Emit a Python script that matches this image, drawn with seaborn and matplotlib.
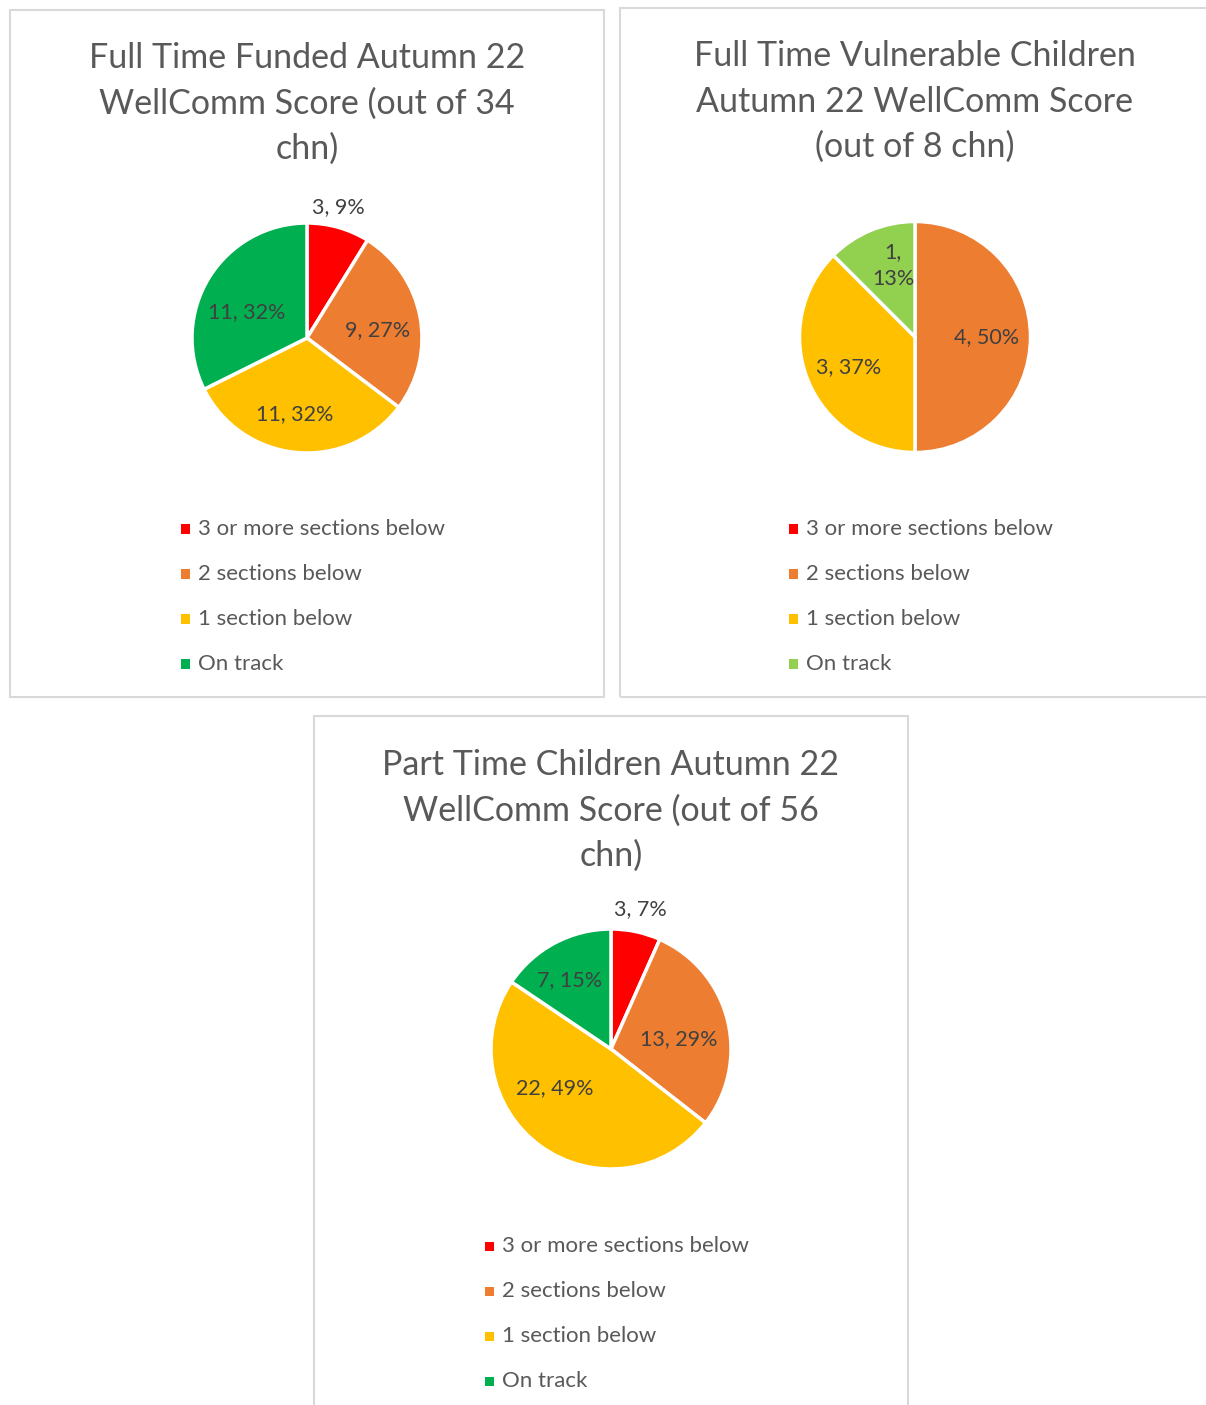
import numpy as np
import matplotlib
matplotlib.use("Agg")
import matplotlib.pyplot as plt
from matplotlib.patches import Rectangle
import seaborn as sns

sns.set_theme(style="white")
plt.rcParams['font.family'] = ['Lato', 'DejaVu Sans']

# ---------------- data ----------------
categories = ["3 or more sections below", "2 sections below", "1 section below", "On track"]

title_ft_funded = "Full Time Funded Autumn 22\nWellComm Score (out of 34\nchn)"
values_ft_funded = [3, 9, 11, 11]
pct_ft_funded = ["9%", "27%", "32%", "32%"]

title_ft_vuln = "Full Time Vulnerable Children\nAutumn 22 WellComm Score\n(out of 8 chn)"
values_ft_vuln = [0, 4, 3, 1]
pct_ft_vuln = ["0%", "50%", "37%", "13%"]

title_pt = "Part Time Children Autumn 22\nWellComm Score (out of 56\nchn)"
values_pt = [3, 13, 22, 7]
pct_pt = ["7%", "29%", "49%", "15%"]

colors_a = ["#FF0000", "#ED7D31", "#FFC000", "#00B050"]
colors_b = ["#FF0000", "#ED7D31", "#FFC000", "#92D050"]

# ---------------- layout (pixels) ----------------
W, H = 1206, 1405
fig = plt.figure(figsize=(W / 100, H / 100), dpi=100)
fig.patch.set_facecolor("white")

TITLE_C = "#595959"
LABEL_C = "#404040"
LEG_C = "#595959"


def fx(x):
    return x / W


def fy(y):
    return 1 - y / H


panels = [
    dict(box=(10, 10, 604, 697), title=title_ft_funded, vals=values_ft_funded, pct=pct_ft_funded,
         colors=colors_a, center=(307, 338), r=115, title_x=307, title_y=58,
         lab=[(1.17, 76.6), (0.62, 6.5), (0.67, -99), (0.57, 156.6)],
         wrap=[False, False, False, False],
         leg_x=181, leg_y=529),
    dict(box=(620, 8, 1212, 697), title=title_ft_vuln, vals=values_ft_vuln, pct=pct_ft_vuln,
         colors=colors_b, center=(915, 337), r=115.5, title_x=915, title_y=56,
         lab=[(0, 0), (0.62, 0), (0.63, -155.6), (0.65, 107)],
         wrap=[False, False, False, True],
         leg_x=789, leg_y=529),
    dict(box=(314, 716, 908, 1412), title=title_pt, vals=values_pt, pct=pct_pt,
         colors=colors_a, center=(611, 1049), r=120, title_x=611, title_y=765,
         lab=[(1.19, 78.3), (0.57, 8.4), (0.57, -145), (0.67, 120.7)],
         wrap=[False, False, False, False],
         leg_x=485, leg_y=1246),
]

for p in panels:
    x0, y0, x1, y1 = p["box"]
    fig.add_artist(Rectangle((fx(x0), fy(y1)), fx(x1 - x0), (y1 - y0) / H,
                             transform=fig.transFigure, fill=False,
                             edgecolor="#D9D9D9", linewidth=1.5, zorder=0))
    # title: one text per line so spacing matches
    for j, line in enumerate(p["title"].split("\n")):
        fig.text(fx(p["title_x"]), fy(p["title_y"] + 45.5 * j), line,
                 ha="center", va="center", fontsize=24.5, color=TITLE_C)

    # pie
    cx, cy = p["center"]
    r = p["r"]
    ax = fig.add_axes([fx(cx - r * 1.3), fy(cy + r * 1.3), 2.6 * r / W, 2.6 * r / H])
    vals = np.array(p["vals"], dtype=float)
    mask = vals > 0
    ax.pie(vals[mask], colors=[c for c, m in zip(p["colors"], mask) if m],
           startangle=90, counterclock=False, radius=1.0,
           wedgeprops=dict(edgecolor="white", linewidth=2.5))
    ax.set_xlim(-1.3, 1.3)
    ax.set_ylim(-1.3, 1.3)
    ax.set_aspect("equal")
    ax.axis("off")
    for i, (v, pc) in enumerate(zip(p["vals"], p["pct"])):
        if v == 0:
            continue
        d, ang = p["lab"][i]
        t = np.deg2rad(ang)
        sep = ",\n" if p["wrap"][i] else ", "
        ax.text(d * np.cos(t), d * np.sin(t), f"{v}{sep}{pc}", ha="center", va="center",
                fontsize=15.5, color=LABEL_C, linespacing=1.45)

    # legend
    for i, (cat, col) in enumerate(zip(categories, p["colors"])):
        yy = p["leg_y"] + 45 * i
        fig.add_artist(Rectangle((fx(p["leg_x"]), fy(yy + 4.5)), 9 / W, 9 / H,
                                 transform=fig.transFigure, facecolor=col, edgecolor="none"))
        fig.text(fx(p["leg_x"] + 17), fy(yy), cat, ha="left", va="center",
                 fontsize=16, color=LEG_C)

fig.savefig("out.png", dpi=100, facecolor="white")
